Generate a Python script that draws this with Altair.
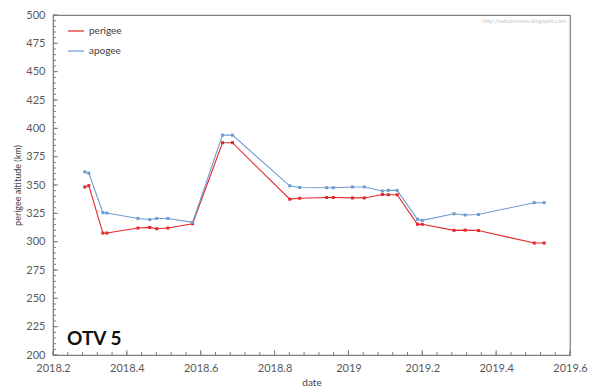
import altair as alt
import pandas as pd
import numpy as np

dates = [2018.286, 2018.297, 2018.335, 2018.346, 2018.430, 2018.462, 2018.481, 2018.511,
         2018.578, 2018.659, 2018.686, 2018.841, 2018.868, 2018.941, 2018.959, 2019.011,
         2019.043, 2019.092, 2019.108, 2019.132, 2019.187, 2019.200, 2019.286, 2019.316,
         2019.352, 2019.503, 2019.530]
perigee = [348.2, 349.5, 307.6, 307.6, 312.0, 312.6, 311.4, 312.0, 315.8, 387.3, 387.3,
           337.5, 338.3, 339.0, 339.0, 338.6, 338.6, 341.6, 341.4, 341.4, 315.3, 315.3,
           310.0, 310.2, 309.8, 298.8, 298.8]
apogee = [361.6, 360.5, 325.6, 325.3, 320.5, 319.5, 320.5, 320.5, 317.0, 394.0, 394.0,
          349.3, 347.8, 347.6, 347.6, 348.3, 348.3, 344.7, 345.3, 345.3, 319.8, 318.8,
          324.6, 323.5, 324.0, 334.4, 334.4]

x_ticks = [2018.2, 2018.4, 2018.6, 2018.8, 2019.0, 2019.2, 2019.4, 2019.6]
y_ticks = [200, 225, 250, 275, 300, 325, 350, 375, 400, 425, 450, 475, 500]

W, H = 517, 340

df = pd.DataFrame({
    "date": dates * 2,
    "alt": perigee + apogee,
    "series": ["perigee"] * len(dates) + ["apogee"] * len(dates),
})

color = alt.Color("series:N",
                  scale=alt.Scale(domain=["perigee", "apogee"], range=["#e3262b", "#6b9bd1"]),
                  legend=alt.Legend(orient="none", legendX=14, legendY=7, title=None,
                                    symbolType="stroke", symbolSize=260, symbolStrokeWidth=1.2,
                                    labelFont="Lato", labelFontSize=10, labelColor="#404040",
                                    rowPadding=6, labelOffset=4))

xs = alt.Scale(domain=[2018.2, 2019.6], nice=False, zero=False)
ys = alt.Scale(domain=[200, 500], nice=False, zero=False)

xaxis = alt.Axis(values=x_ticks, format=".6~g", grid=False, tickSize=0, labelPadding=7,
                 labelFlush=False, labelOverlap=False,
                 title="date", titleFontSize=10, titleFontWeight="normal", titleColor="#404040",
                 titlePadding=4, labelFont="Lato", titleFont="Lato", labelFontSize=11,
                 labelColor="#595959", domainColor="#7f7f7f")
yaxis = alt.Axis(values=y_ticks, grid=False, tickSize=0, labelPadding=8,
                 labelFlush=False, labelOverlap=False,
                 title="perigee altitude (km)", titleFontSize=9, titleFontWeight="normal",
                 titleColor="#404040", titlePadding=3, labelFont="Lato", titleFont="Lato",
                 labelFontSize=11, labelColor="#595959", domainColor="#7f7f7f")

base = alt.Chart(df)
lines = base.mark_line(strokeWidth=1.1).encode(
    x=alt.X("date:Q", scale=xs, axis=xaxis, title="date"),
    y=alt.Y("alt:Q", scale=ys, axis=yaxis, title="perigee altitude (km)"),
    color=color,
    order="date:Q",
)
pts = base.mark_point(filled=True, size=9, opacity=1, shape="square").encode(
    x=alt.X("date:Q", scale=xs, axis=xaxis, title="date"),
    y=alt.Y("alt:Q", scale=ys, axis=yaxis, title="perigee altitude (km)"),
    color=alt.Color("series:N", scale=alt.Scale(domain=["perigee", "apogee"], range=["#e3262b", "#6b9bd1"]), legend=None),
)

# inward tick marks (axis styling)
xt_major = pd.DataFrame({"v": x_ticks})
xt_minor = pd.DataFrame({"v": [round(v, 2) for v in np.arange(2018.2, 2019.6001, 0.04)]})
yt_major = pd.DataFrame({"v": y_ticks})
yt_minor = pd.DataFrame({"v": list(range(200, 501, 5))})

xtick_major = alt.Chart(xt_major).mark_rule(color="#7f7f7f", strokeWidth=1).encode(
    x=alt.X("v:Q", scale=xs, axis=xaxis, title="date"), y=alt.value(H), y2=alt.value(H - 5))
xtick_minor = alt.Chart(xt_minor).mark_rule(color="#7f7f7f", strokeWidth=1).encode(
    x=alt.X("v:Q", scale=xs, axis=xaxis, title="date"), y=alt.value(H), y2=alt.value(H - 3))
ytick_major = alt.Chart(yt_major).mark_rule(color="#7f7f7f", strokeWidth=1).encode(
    y=alt.Y("v:Q", scale=ys, axis=yaxis, title="perigee altitude (km)"), x=alt.value(0), x2=alt.value(5))
ytick_minor = alt.Chart(yt_minor).mark_rule(color="#7f7f7f", strokeWidth=1).encode(
    y=alt.Y("v:Q", scale=ys, axis=yaxis, title="perigee altitude (km)"), x=alt.value(0), x2=alt.value(3))

label = alt.Chart(pd.DataFrame({"t": ["OTV 5"]})).mark_text(
    align="left", baseline="alphabetic", font="Lato", fontSize=19, fontWeight="bold", color="#111111"
).encode(x=alt.value(14), y=alt.value(330), text="t:N")

wm = alt.Chart(pd.DataFrame({"t": ["http://satcoknows.blogspot.com"]})).mark_text(
    align="right", baseline="middle", font="Lato", fontSize=6, color="#c8c8c8"
).encode(x=alt.value(W - 4), y=alt.value(6), text="t:N")

chart = alt.layer(lines, pts, xtick_minor, xtick_major, ytick_minor, ytick_major, label, wm).properties(
    width=W, height=H,
    autosize=alt.AutoSizeParams(type="none"),
    padding={"left": 45, "top": 7, "right": 22, "bottom": 34},
).configure_view(stroke="#7f7f7f", strokeWidth=1.2).resolve_scale(color="independent")

chart.save("out.html", embed_options={"renderer": "svg", "actions": False})
